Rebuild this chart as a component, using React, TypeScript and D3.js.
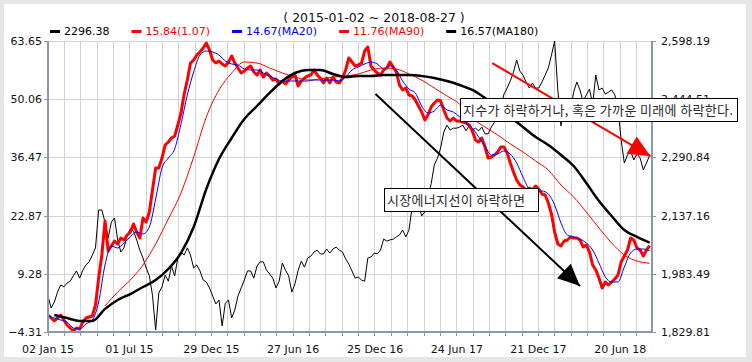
import React from 'react';
import * as d3 from 'd3';

// period shown in the title
const startDate = '2015-01-02';
const endDate = '2018-08-27';

// KOSPI close, one value every 7 days from startDate (right axis)
const kospiStep = 7;
const kospi = [
  1925, 1893, 1909, 1935, 1954, 1949, 1959, 1964, 1978, 1991,
  1972, 1993, 2007, 2015, 2033, 2052, 2152, 2152, 2120, 2078,
  2120, 2131, 2073, 2041, 2052, 2086, 2102, 2096, 2073, 2046,
  2025, 1999, 1978, 1927, 1835, 1933, 1949, 1980, 1964, 2004,
  1978, 2025, 2041, 2033, 2052, 2033, 1999, 2007, 1991, 1967,
  1962, 1946, 1925, 1904, 1914, 1846, 1906, 1914, 1867, 1888,
  1925, 1946, 1967, 1991, 1991, 1972, 2004, 2015, 2015, 1993,
  1983, 1972, 1946, 1964, 2012, 1993, 1978, 1935, 1957, 1993,
  2017, 2001, 2025, 2030, 2041, 2046, 2036, 2036, 2049, 2038,
  2049, 2054, 2046, 2041, 2023, 2009, 1991, 1972, 1975, 1967,
  1964, 2025, 2028, 2038, 2036, 2046, 2075, 2070, 2073, 2075,
  2081, 2086, 2099, 2081, 2099, 2160, 2173, 2170, 2136, 2147,
  2189, 2221, 2271, 2289, 2316, 2358, 2376, 2363, 2368, 2368,
  2371, 2376, 2361, 2374, 2363, 2368, 2361, 2371, 2353, 2353,
  2371, 2384, 2403, 2424, 2458, 2474, 2493, 2516, 2548, 2519,
  2508, 2490, 2474, 2487, 2474, 2474, 2490, 2508, 2527, 2561,
  2598, 2469, 2374, 2421, 2421, 2416, 2463, 2490, 2469, 2437,
  2456, 2471, 2432, 2508, 2469, 2474, 2458, 2463, 2469, 2456,
  2421, 2337, 2276, 2297, 2308, 2284, 2300, 2289, 2258, 2276, 2296.38,
];

// market energy line, same 7-day spacing (left axis)
const energyStep = 7;
const energy = [
  -0.34, -1.04, -1.74, -1.04, -0.34, -1.51, -2.68, -3.38, -4.08, -3.38,
  -3.61, -1.97, -1.04, -0.81, -0.57, 2.0, 8.3, 13.67, 21.61, 14.61,
  15.77, 16.94, 16.24, 17.64, 17.18, 18.34, 19.04, 20.91, 19.04, 17.64,
  22.31, 21.38, 23.71, 28.85, 33.99, 33.99, 36.33, 39.36, 40.06, 41.0,
  41.46, 44.03, 46.84, 51.27, 54.54, 58.51, 59.21, 60.38, 61.08, 62.02,
  63.18, 61.55, 59.21, 58.51, 58.98, 58.28, 57.81, 58.75, 60.15, 58.51,
  57.34, 56.18, 56.64, 57.34, 57.81, 56.41, 55.71, 56.88, 55.24, 56.18,
  55.48, 54.54, 54.78, 53.61, 54.31, 53.61, 54.54, 55.24, 55.71, 53.14,
  54.31, 55.01, 55.48, 55.71, 56.88, 55.71, 55.01, 53.84, 55.01, 53.84,
  55.24, 54.07, 53.84, 55.01, 56.88, 59.68, 58.75, 57.81, 58.05, 58.51,
  61.31, 62.25, 57.81, 56.88, 56.18, 55.71, 56.88, 57.34, 58.75, 57.58,
  56.41, 53.37, 52.21, 52.67, 51.04, 50.81, 49.87, 48.47, 47.07, 45.2,
  46.37, 48.24, 49.17, 49.87, 49.64, 47.54, 45.67, 44.97, 45.67, 44.97,
  44.97, 44.73, 44.5, 44.03, 42.63, 40.53, 40.06, 41.0, 38.9, 36.33,
  36.56, 37.03, 37.73, 38.9, 38.9, 37.49, 35.16, 33.06, 31.19, 30.02,
  29.55, 28.62, 29.32, 28.85, 29.79, 29.09, 27.92, 27.69, 25.82, 23.25,
  19.04, 16.24, 15.77, 16.94, 17.18, 17.88, 17.64, 17.64, 17.18, 15.54,
  16.01, 14.37, 11.34, 10.17, 8.3, 5.97, 7.37, 6.67, 7.37, 8.07,
  9.0, 12.04, 13.44, 14.84, 17.64, 17.18, 15.31, 14.84, 13.44, 14.84, 15.84,
];

// moving averages of the energy line
const ma20Start = '2015-01-02';
const ma20Step = 14;
const ma20 = [
  -0.57, -1.04, -1.51, -1.97, -3.38, -3.61, -2.44, -1.51, 2.7, 11.34,
  15.77, 15.31, 16.48, 17.88, 19.04, 18.58, 20.21, 26.75, 33.99, 36.33,
  38.43, 44.27, 51.04, 56.41, 60.38, 61.31, 61.08, 60.38, 58.98, 58.28,
  58.05, 57.11, 56.88, 56.88, 56.18, 55.48, 54.78, 54.31, 54.31, 54.31,
  54.31, 54.31, 54.54, 54.54, 54.54, 54.54, 54.31, 55.24, 56.88, 57.58,
  58.28, 58.75, 58.28, 57.11, 57.81, 56.88, 54.31, 52.44, 51.51, 48.47,
  46.84, 47.3, 48.7, 47.54, 47.07, 45.9, 44.5, 43.33, 41.23, 39.13,
  37.03, 37.26, 37.96, 37.26, 35.16, 31.89, 29.09, 28.62, 28.62, 27.92,
  25.35, 21.15, 18.34, 17.88, 17.41, 16.48, 14.84, 11.8, 8.53, 7.37,
  7.37, 10.87, 14.14, 15.07, 15.07, 14.67,
];

const ma90Start = '2015-05-08';
const ma90Step = 28;
const ma90 = [
  1.76, 5.03, 7.83, 11.34, 16.24, 22.08, 28.15, 36.56, 45.9, 52.21,
  56.18, 58.75, 58.51, 57.34, 56.18, 55.24, 54.54, 54.78, 55.24, 55.48,
  55.94, 56.88, 57.34, 57.11, 55.94, 54.54, 52.67, 50.81, 48.94, 45.67,
  43.57, 41.7, 39.6, 37.73, 35.63, 33.52, 30.02, 27.22, 23.71, 19.98,
  16.48, 13.67, 12.27, 11.76,
];

const ma180Start = '2015-01-16';
const ma180Step = 28;
const ma180 = [
  -0.34, -1.04, -1.74, -1.74, 1.06, 3.16, 4.56, 6.2, 7.83, 10.4,
  14.14, 20.21, 29.09, 36.09, 41.0, 45.43, 48.47, 51.51, 54.31, 56.18,
  56.88, 56.88, 55.94, 55.24, 55.48, 55.48, 55.71, 55.71, 55.71, 55.48,
  55.01, 54.31, 53.37, 52.21, 50.34, 48.24, 45.9, 43.57, 41.23, 39.36,
  37.03, 34.46, 30.49, 26.28, 22.78, 19.51, 17.88, 16.57,
];

// axis ticks
const leftTicks = [-4.31, 9.28, 22.87, 36.47, 50.06, 63.65];
const rightTicks = [1829.81, 1983.49, 2137.16, 2290.84, 2444.51, 2598.19];
const xTickDates = ['2015-01-02', '2015-07-01', '2015-12-29', '2016-06-27', '2016-12-25', '2017-06-24', '2017-12-21', '2018-06-20'];
const xTickLabels = ['02 Jan 15', '01 Jul 15', '29 Dec 15', '27 Jun 16', '25 Dec 16', '24 Jun 17', '21 Dec 17', '20 Jun 18'];

const legendLabels = ['2296.38', '15.84(1.07)', '14.67(MA20)', '11.76(MA90)', '16.57(MA180)'];
const legendColors = ['#000000', '#ff0000', '#0000ff', '#ff0000', '#000000'];

const noteUpper = '지수가 하락하거나, 혹은 가까운 미래에 하락한다.';
const noteLower = '시장에너지선이 하락하면';

const W = 752;
const H = 362;
const plot = { left: 48, right: 651, top: 41, bottom: 332 };
const tickFont = '"DejaVu Sans", Verdana, sans-serif';
const krFont = '"Noto Sans CJK KR", sans-serif';
const axisColor = '#8d98a7';
const gridColor = '#d3d3d3';

const parse = d3.timeParse('%Y-%m-%d');

const toPoints = (start, step, values) => {
  const s = parse(start);
  return values.map((v, i) => ({ date: d3.timeDay.offset(s, i * step), value: v }));
};

const measure = (() => {
  let ctx = null;
  return (text, font) => {
    if (!ctx) ctx = document.createElement('canvas').getContext('2d');
    ctx.font = font;
    return ctx.measureText(text).width;
  };
})();

const arrowHead = (x1, y1, x2, y2, len, half) => {
  const a = Math.atan2(y2 - y1, x2 - x1);
  const bx = x2 - len * Math.cos(a);
  const by = y2 - len * Math.sin(a);
  const px = -Math.sin(a) * half;
  const py = Math.cos(a) * half;
  return `${x2},${y2} ${bx + px},${by + py} ${bx - px},${by - py}`;
};

export default function App() {
  const x = d3.scaleTime().domain([parse(startDate), parse(endDate)]).range([plot.left, plot.right]);
  const yL = d3.scaleLinear().domain([-4.31, 63.65]).range([plot.bottom, plot.top]);
  const yR = d3.scaleLinear().domain([1829.81, 2598.19]).range([plot.bottom, plot.top]);

  const kospiPts = toPoints(startDate, kospiStep, kospi);
  const energyPts = toPoints(startDate, energyStep, energy);
  const ma20Pts = toPoints(ma20Start, ma20Step, ma20);
  const ma90Pts = toPoints(ma90Start, ma90Step, ma90);
  const ma180Pts = toPoints(ma180Start, ma180Step, ma180);

  const lineR = d3.line().x(d => x(d.date)).y(d => yR(d.value));
  const lineL = d3.line().x(d => x(d.date)).y(d => yL(d.value));
  const smoothL = d3.line().x(d => x(d.date)).y(d => yL(d.value)).curve(d3.curveMonotoneX);

  // major ticks carry the labels, four minor ticks between each pair
  const majorX = xTickDates.map(d => x(parse(d)));
  const minorStep = (majorX[majorX.length - 1] - majorX[0]) / ((majorX.length - 1) * 5);
  const minorX = d3.range(0, 200).map(k => majorX[0] + k * minorStep).filter(v => v <= plot.right + 0.5);

  // legend flow
  const legendFont = `11px ${tickFont}`;
  let lx = 50;
  const legend = legendLabels.map((label, i) => {
    const item = { label, color: legendColors[i], x: lx };
    lx += 14 + measure(label, legendFont) + 22;
    return item;
  });

  // arrows anchored in chart coordinates
  const bx1 = x(parse('2016-12-26')), by1 = yL(51.27);
  const bx2 = x(parse('2018-03-23')), by2 = yL(6.43);
  const rx1 = x(parse('2017-09-10')), ry1 = yR(2540);
  const rx2 = x(parse('2018-08-26')), ry2 = yR(2294);

  return (
    <svg width={W} height={H} style={{ position: 'absolute', left: 0, top: 0, display: 'block' }}>
      <rect x={0} y={0} width={W} height={H} fill="#e6e6e6" />
      <rect x={4} y={4} width={742} height={353} fill="#ffffff" />

      <text x={374} y={22} textAnchor="middle" fontFamily={tickFont} fontSize={12.5} fill="#111">
        ( 2015-01-02 ~ 2018-08-27 )
      </text>

      {legend.map(item => (
        <g key={item.label}>
          <rect x={item.x} y={30} width={10} height={3} fill={item.color} />
          <text x={item.x + 14} y={35} fontFamily={tickFont} fontSize={11} fill={item.color}>{item.label}</text>
        </g>
      ))}

      {/* grid */}
      <g shapeRendering="crispEdges">
        {minorX.slice(1).map((v, i) => (
          <line key={'gx' + i} x1={v} x2={v} y1={plot.top} y2={plot.bottom} stroke={gridColor} strokeWidth={1} />
        ))}
        {leftTicks.map(t => (
          <line key={'gy' + t} x1={plot.left} x2={plot.right} y1={Math.round(yL(t))} y2={Math.round(yL(t))} stroke={gridColor} strokeWidth={1} />
        ))}
      </g>

      {/* series */}
      <path d={lineR(kospiPts)} fill="none" stroke="#000" strokeWidth={1} strokeLinejoin="round" />
      <path d={lineL(energyPts)} fill="none" stroke="#ff0000" strokeWidth={3} strokeLinejoin="round" />
      <path d={smoothL(ma20Pts)} fill="none" stroke="#0000ff" strokeWidth={1} />
      <path d={smoothL(ma90Pts)} fill="none" stroke="#ff0000" strokeWidth={1} />
      <path d={smoothL(ma180Pts)} fill="none" stroke="#000" strokeWidth={2.5} />

      {/* axes */}
      <g shapeRendering="crispEdges">
        <line x1={plot.left} x2={plot.left} y1={plot.top} y2={plot.bottom + 1} stroke={axisColor} strokeWidth={2} />
        <line x1={plot.right + 1} x2={plot.right + 1} y1={plot.top} y2={plot.bottom + 1} stroke={axisColor} strokeWidth={2} />
        <line x1={plot.left} x2={plot.right + 2} y1={plot.bottom} y2={plot.bottom} stroke={axisColor} strokeWidth={2} />
        {minorX.map((v, i) => (
          <line key={'tx' + i} x1={v} x2={v} y1={plot.bottom} y2={plot.bottom + 4} stroke={axisColor} strokeWidth={1} />
        ))}
        {leftTicks.map(t => (
          <line key={'tl' + t} x1={plot.left - 4} x2={plot.left} y1={Math.round(yL(t))} y2={Math.round(yL(t))} stroke={axisColor} strokeWidth={1} />
        ))}
        {rightTicks.map(t => (
          <line key={'tr' + t} x1={plot.right + 1} x2={plot.right + 5} y1={Math.round(yR(t))} y2={Math.round(yR(t))} stroke={axisColor} strokeWidth={1} />
        ))}
      </g>

      {leftTicks.map(t => (
        <text key={'ll' + t} x={plot.left - 6} y={yL(t) + 4} textAnchor="end" fontFamily={tickFont} fontSize={11} fill="#111">
          {d3.format('.2f')(t)}
        </text>
      ))}
      {rightTicks.map(t => (
        <text key={'rl' + t} x={plot.right + 10} y={yR(t) + 4} fontFamily={tickFont} fontSize={11} fill="#111">
          {d3.format(',.2f')(t)}
        </text>
      ))}
      {xTickLabels.map((label, i) => (
        <text key={label} x={majorX[i]} y={353} textAnchor="middle" fontFamily={tickFont} fontSize={11} fill="#111">
          {label}
        </text>
      ))}

      {/* annotations */}
      <line x1={bx1} y1={by1} x2={bx2} y2={by2} stroke="#000" strokeWidth={2} />
      <polygon points={arrowHead(bx1, by1, bx2, by2, 22, 10)} fill="#000" />
      <line x1={rx1} y1={ry1} x2={rx2} y2={ry2} stroke="#ff0000" strokeWidth={2} />
      <polygon points={arrowHead(rx1, ry1, rx2, ry2, 22, 10)} fill="#ff0000" />

      <rect x={460.5} y={98.5} width={277} height={23} fill="#fff" stroke="#000" strokeWidth={1} />
      <text x={463} y={115} fontFamily={krFont} fontSize={13} fill="#2a2a2a" textLength={270} lengthAdjust="spacing">{noteUpper}</text>
      <rect x={384.5} y={188.5} width={154} height={23} fill="#fff" stroke="#000" strokeWidth={1} />
      <text x={387} y={205} fontFamily={krFont} fontSize={13} fill="#2a2a2a" textLength={138} lengthAdjust="spacing">{noteLower}</text>
    </svg>
  );
}
